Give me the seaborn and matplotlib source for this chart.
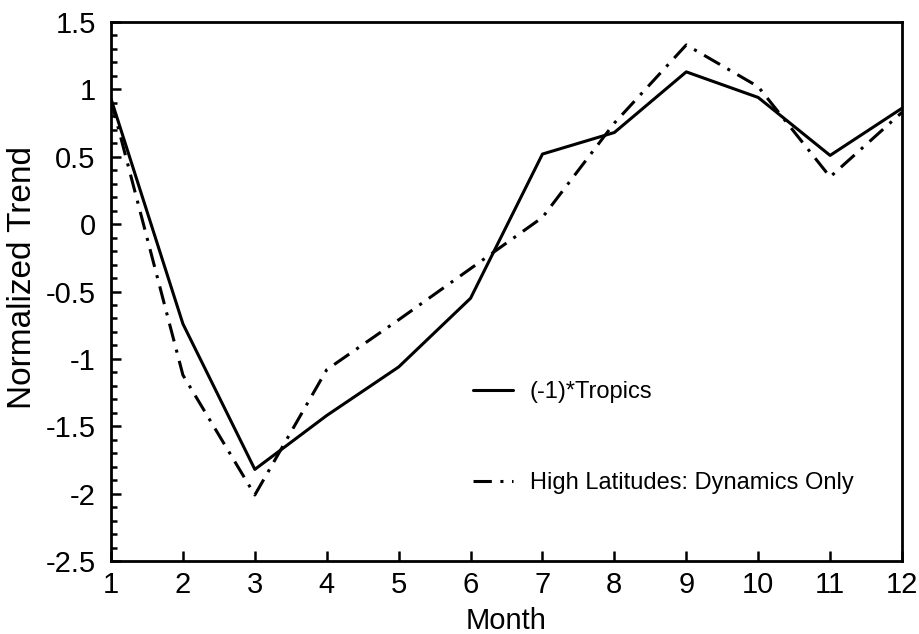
import matplotlib
matplotlib.use("Agg")
import matplotlib.pyplot as plt
from matplotlib.ticker import MultipleLocator
import numpy as np
import pandas as pd
import seaborn as sns

months = list(range(1, 13))
tropics = [0.93, -0.74, -1.82, -1.42, -1.06, -0.55, 0.52, 0.68, 1.13, 0.94, 0.51, 0.86]
high_lat = [0.92, -1.12, -2.01, -1.08, -0.71, -0.33, 0.05, 0.75, 1.33, 1.02, 0.35, 0.83]
series_names = ["(-1)*Tropics", "High Latitudes: Dynamics Only"]
y_ticks = [-2.5, -2, -1.5, -1, -0.5, 0, 0.5, 1, 1.5]
y_tick_labels = ["-2.5", "-2", "-1.5", "-1", "-0.5", "0", "0.5", "1", "1.5"]

df = pd.concat([
    pd.DataFrame({"Month": months, "Trend": tropics, "Series": series_names[0]}),
    pd.DataFrame({"Month": months, "Trend": high_lat, "Series": series_names[1]}),
])

sns.set_style("white")
plt.rcParams["font.family"] = ["Liberation Sans", "DejaVu Sans"]
plt.rcParams["text.color"] = "black"
plt.rcParams["axes.labelcolor"] = "black"

fig = plt.figure(figsize=(9.19, 6.34), dpi=100)
ax = fig.add_axes([0.1208, 0.1151, 0.9815 - 0.1208, 0.9653 - 0.1151])

sns.lineplot(
    data=df, x="Month", y="Trend", style="Series",
    dashes={series_names[0]: "", series_names[1]: (6, 2.8, 1, 2.8)},
    color="black", linewidth=2.2, ax=ax, legend=True,
)

ax.set_xlim(1, 12)
ax.set_ylim(-2.5, 1.5)
ax.set_xticks(months)
ax.set_xticklabels([str(m) for m in months])
ax.set_yticks(y_ticks)
ax.set_yticklabels(y_tick_labels)
ax.yaxis.set_minor_locator(MultipleLocator(0.1))

ax.tick_params(axis="both", which="both", direction="in",
               top=False, right=False, left=True, bottom=True,
               colors="black", labelcolor="black")
ax.tick_params(axis="both", which="major", length=7, width=1.8,
               labelsize=21)
ax.tick_params(axis="y", which="major", pad=11)
ax.tick_params(axis="x", which="major", pad=7)
ax.tick_params(axis="y", which="minor", length=4, width=1.8)
ax.tick_params(axis="x", which="minor", length=0)

for side in ["left", "right", "top", "bottom"]:
    ax.spines[side].set_visible(True)
    ax.spines[side].set_color("black")
    ax.spines[side].set_linewidth(2.0)

ax.set_xlabel("Month", fontsize=21, labelpad=6)
ax.set_ylabel("Normalized Trend", fontsize=24)
ax.yaxis.set_label_coords(-0.092, 0.526)

handles, labels = ax.get_legend_handles_labels()
leg = ax.legend(
    handles, labels, loc="center left", bbox_to_anchor=(0.458, 0.229),
    frameon=False, fontsize=17, handlelength=1.7, handletextpad=0.7,
    labelspacing=2.9, borderpad=0, borderaxespad=0,
)
for line in leg.get_lines():
    line.set_linewidth(2.2)
for text in leg.get_texts():
    text.set_color("black")

fig.savefig("out.png", dpi=100)
